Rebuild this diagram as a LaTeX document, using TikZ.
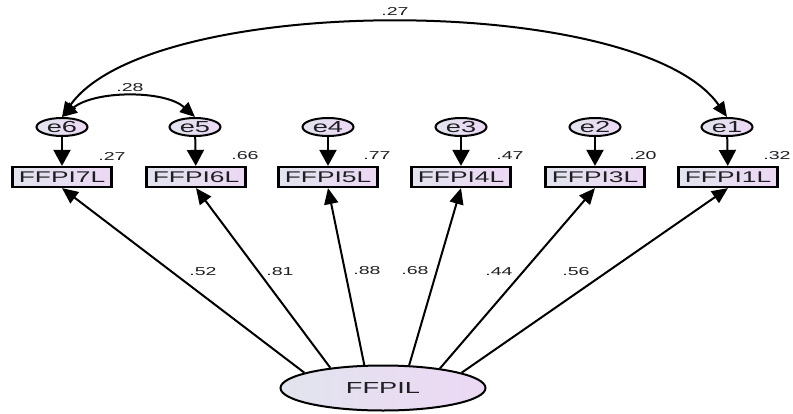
\documentclass[tikz,border=0pt]{standalone}
\usepackage{fontspec}
\newfontfamily\amos[FakeStretch=1.7]{Liberation Sans}
\usetikzlibrary{arrows.meta,shapes.geometric}
\definecolor{fillL}{RGB}{226,228,238}
\definecolor{fillR}{RGB}{236,216,244}
\definecolor{txt}{RGB}{30,30,35}
\begin{document}
\begin{tikzpicture}[x=1pt,y=-1pt,
  obs/.style={draw=black,line width=2.2pt,rectangle,minimum width=99pt,minimum height=20pt,inner sep=0pt,
    left color=fillL,right color=fillR,font=\amos\fontsize{15.5}{15.5}\selectfont,text=txt},
  err/.style={draw=black,line width=2pt,ellipse,minimum width=51pt,minimum height=18pt,inner sep=0pt,
    left color=fillL,right color=fillR,font=\amos\fontsize{16}{16}\selectfont,text=txt},
  lat/.style={draw=black,line width=2pt,ellipse,minimum width=205pt,minimum height=45pt,inner sep=0pt,
    left color=fillL,right color=fillR,font=\amos\fontsize{16}{16}\selectfont,text=txt},
  lab/.style={font=\amos\fontsize{11.5}{11.5}\selectfont,text=txt,inner sep=0pt},
  earr/.style={line width=2pt,-{Triangle[length=16pt,width=17pt]}},
  arr/.style={line width=2pt,-{Triangle[length=16pt,width=14pt]}},
  darr/.style={line width=2pt,{Triangle[length=15pt,width=13pt]}-{Triangle[length=15pt,width=13pt]}}
]
\useasboundingbox (0,0) rectangle (793,413);
% error terms
\node[err] (e6) at (62,127) {e6};
\node[err] (e5) at (195,127) {e5};
\node[err] (e4) at (328,127) {e4};
\node[err] (e3) at (461,127) {e3};
\node[err] (e2) at (595,127) {e2};
\node[err] (e1) at (727,127) {e1};
% observed
\node[obs] (r7) at (62,177) {FFPI7L};
\node[obs] (r6) at (196,177) {FFPI6L};
\node[obs] (r5) at (328,177) {FFPI5L};
\node[obs] (r4) at (461,177) {FFPI4L};
\node[obs] (r3) at (595,177) {FFPI3L};
\node[obs] (r1) at (728,177) {FFPI1L};
% latent
\node[lat] (F) at (383,388) {FFPIL};
% error arrows
\foreach \e/\r in {e6/r7,e5/r6,e4/r5,e3/r4,e2/r3,e1/r1}{\draw[earr] (\e) -- (\r);}
% loadings
\draw[arr] (F.169.5) -- (r7.south);
\draw[arr] (F.159.2) -- (r6.south);
\draw[arr] (F.129.8) -- (r5.south);
\draw[arr] (F.41.6) -- (r4.south);
\draw[arr] (F.19.5) -- (r3.south);
\draw[arr] (F.11.4) -- (r1.south);
% covariances
\draw[darr] (e6.north) .. controls (150,-8) and (640,-8) .. (e1.north);
\draw[darr] (e6.north) .. controls (95,90) and (165,90) .. (e5.north);
% labels
\node[lab] (l27) at (395,11) {.27};
\node[lab] (l28) at (130,88) {.28};
\node[lab] (s7) at (112,156) {.27};
\node[lab] (s6) at (245,156) {.66};
\node[lab] (s5) at (377,156) {.77};
\node[lab] (s4) at (510,156) {.47};
\node[lab] (s3) at (643,156) {.20};
\node[lab] (s1) at (777,156) {.32};
\node[lab] (w7) at (203,272) {.52};
\node[lab] (w6) at (280,272) {.81};
\node[lab] (w5) at (367,271) {.88};
\node[lab] (w4) at (415,271) {.68};
\node[lab] (w3) at (499,272) {.44};
\node[lab] (w1) at (576,272) {.56};
\end{tikzpicture}
\end{document}
